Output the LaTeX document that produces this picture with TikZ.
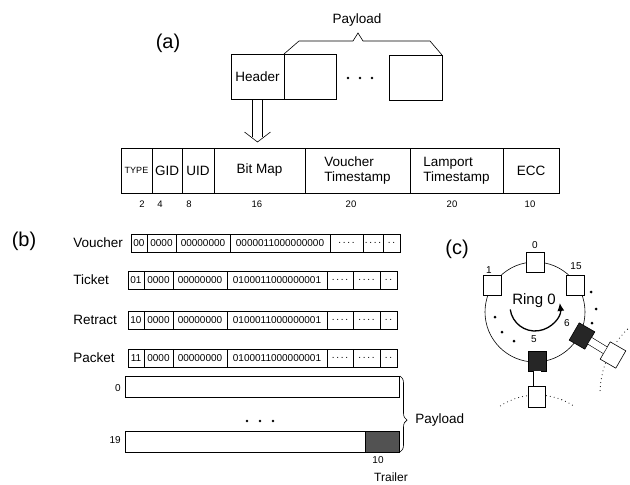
\documentclass[tikz,border=0pt]{standalone}
\usepackage{fontspec}
\setmainfont{Liberation Sans}
\usetikzlibrary{positioning,arrows.meta,decorations.pathreplacing}

\tikzset{
  lbl/.style={font=\fontsize{13.5}{15}\selectfont, inner sep=1pt},
  part/.style={font=\fontsize{20}{22}\selectfont, inner sep=0pt},
  fld/.style={draw, minimum height=45, inner sep=0pt, outer sep=0pt, anchor=north west, font=\fontsize{13.5}{15}\selectfont, align=left},
  num/.style={font=\fontsize{9.5}{10}\selectfont, inner sep=0pt},
  cell/.style={draw, minimum height=18, inner sep=0pt, outer sep=0pt, font=\fontsize{10}{10}\selectfont},
  box/.style={draw, minimum height=45, inner sep=0pt, outer sep=0pt},
  stn/.style={draw, fill=white, minimum width=18, minimum height=20, inner sep=0pt},
  stnb/.style={stn, fill=black!85},
  dotline/.style={line width=1.1pt, line cap=round, dash pattern=on 0pt off 4pt}
}

\begin{document}
\begin{tikzpicture}[x=1pt, y=-1pt, line width=0.6pt]
        \useasboundingbox ( 0, 0 ) rectangle ( 630, 485 );

        % (a) пакет
        \node [part] (pa) at ( 168, 43 ) {(a)};
        \node [box, lbl, minimum width=53, anchor=north west] (hdr) at ( 231, 54 ) {Header};
        \node [box, minimum width=52, right=0pt of hdr] (pl1) {};
        \node [box, minimum width=53, anchor=north west] (pln) at ( 389, 55 ) {};
        \foreach \xx in {348, 360, 372}
            \fill ( \xx, 78 ) circle [ radius = 1.3 ];

        % скобка
        \draw (pl1.north west) -- ( 299, 41 ) -- ( 353, 41 ) -- ( 358, 33 ) -- ( 363, 41 ) -- ( 430, 41 ) -- (pln.north east);
        \node [lbl] (pay) at ( 357, 20 ) {Payload};

        % поля заголовка
        \node [fld, minimum width=31] (ftype) at ( 121, 148 ) {\fontsize{9}{9}\selectfont TYPE};
        \node [fld, minimum width=30, right=0pt of ftype] (fgid) {GID};
        \node [fld, minimum width=32, right=0pt of fgid] (fuid) {UID};
        \node [fld, minimum width=91, right=0pt of fuid] (fbm) {Bit Map};
        \node [fld, minimum width=105, right=0pt of fbm] (fvt) {Voucher\\Timestamp};
        \node [fld, minimum width=93, right=0pt of fvt] (flt) {Lamport\\Timestamp};
        \node [fld, minimum width=56, right=0pt of flt] (fecc) {ECC};
        \foreach \xx/\nn in {142/2, 160/4, 189/8, 257/16, 351/20, 452/20, 530/10}
            \node [num] (w\xx) at ( \xx, 204 ) {\nn};

        % двойная стрелка
        \coordinate (tip) at ([yshift=6pt]hdr.south |- ftype.north);
        \draw ([xshift=-5pt]hdr.south) -- ([xshift=-5pt, yshift=5pt]tip);
        \draw ([xshift=5pt]hdr.south) -- ([xshift=5pt, yshift=5pt]tip);
        \draw ([xshift=-13pt, yshift=10pt]tip) -- (tip) -- ([xshift=13pt, yshift=10pt]tip);

        % (b) форматы
        \node [part] (pb) at ( 24, 241 ) {(b)};
        \foreach \nm/\yy/\txt/\tp/\bm/\xo/\wa/\wb in {vch/243/Voucher/00/0000011000000000/131/33/20,
                tkt/280/Ticket/01/0100011000000001/128/26/27,
                rtr/320/Retract/10/0100011000000001/128/26/27,
                pkt/358/Packet/11/0100011000000001/128/26/27} {
            \node [lbl, anchor=west] (\nm) at ( 72, \yy ) {\txt};
            \node [cell, minimum width=16, anchor=west] (\nm-1) at ( \xo, \yy ) {\tp};
            \node [cell, minimum width=29, right=0pt of \nm-1] (\nm-2) {0000};
            \node [cell, minimum width=54, right=0pt of \nm-2] (\nm-3) {00000000};
            \node [cell, minimum width=100, right=0pt of \nm-3] (\nm-4) {\bm};
            \node [cell, minimum width=\wa, right=0pt of \nm-4] (\nm-5) {.\,.\,.\,.};
            \node [cell, minimum width=\wb, right=0pt of \nm-5] (\nm-6) {.\,.\,.\,.};
            \node [cell, minimum width=17, right=0pt of \nm-6] (\nm-7) {.\,.};
        }

        % полезная нагрузка
        \node [box, minimum width=274, minimum height=21, anchor=north west] (r0) at ( 125, 376 ) {};
        \node [box, minimum width=274, minimum height=21, anchor=north west] (r19) at ( 125, 431 ) {};
        \node [box, fill=black!68, minimum width=34, minimum height=21, anchor=east] (trl) at (r19.east) {};
        \node [num, font=\fontsize{10}{10}\selectfont, anchor=east] (i0) at ( 121, 388 ) {0};
        \node [num, font=\fontsize{10}{10}\selectfont, anchor=east] (i19) at ( 121, 440 ) {19};
        \foreach \xx in {247, 260, 273}
            \fill ( \xx, 421 ) circle [ radius = 1.3 ];
        \draw [decorate, decoration={brace, amplitude=7pt, aspect=0.58}] ([xshift=1pt]r0.north east) -- ([xshift=1pt]r19.south east);
        \node [lbl, anchor=west] (pay2) at ( 414, 420 ) {Payload};
        \node [num, font=\fontsize{10}{10}\selectfont] (t10) at ( 378, 460 ) {10};
        \node [lbl, font=\fontsize{12}{12}\selectfont] (trlr) at ( 391, 477 ) {Trailer};

        % (c) кольцо
        \node [part] (pc) at ( 457, 249 ) {(c)};
        \draw ( 535, 312 ) circle [ radius = 50 ];
        \node [stn] (s0) at ( 535, 262 ) {};
        \node [stn] (s1) at ( 492, 285 ) {};
        \node [stn] (s15) at ( 575, 285 ) {};
        \node [stnb] (s5) at ( 537, 361 ) {};
        \node [stnb, rotate=-30] (s6) at ( 582, 336 ) {};
        \node [stn, minimum width=17, minimum height=21] (o5) at ( 537, 397 ) {};
        \node [stn, rotate=-30] (o6) at ( 613, 355 ) {};
        \draw [double, double distance=7pt] (s5) -- (o5);
        \draw [double, double distance=7pt] (s6) -- (o6);
        \node [num, font=\fontsize{10}{10}\selectfont] (l0) at ( 535, 245 ) {0};
        \node [num, font=\fontsize{10}{10}\selectfont] (l1) at ( 489, 270 ) {1};
        \node [num, font=\fontsize{10}{10}\selectfont] (l15) at ( 576, 266 ) {15};
        \node [num, font=\fontsize{10}{10}\selectfont] (l6) at ( 567, 323 ) {6};
        \node [num, font=\fontsize{10}{10}\selectfont] (l5) at ( 534, 339 ) {5};
        \foreach \xx/\yy in {495/317, 502/332, 514/341, 591/292, 596/309, 592/323}
            \fill ( \xx, \yy ) circle [ radius = 1.5 ];

        % направление
        \node [font=\fontsize{15}{15}\selectfont, inner sep=0pt] (rng) at ( 534, 301 ) {Ring 0};
        \draw [line width=1.3pt, -{Latex[length=8pt, width=7pt]}] ([shift={(172:25)}]535,306) arc [ start angle = 172, end angle = -7, radius = 25 ];

        % соседние кольца
        \draw [dotline] ([shift={(237:67)}]537,462) arc [ start angle = 237, end angle = 262, radius = 67 ];
        \draw [dotline] ([shift={(278:67)}]537,462) arc [ start angle = 278, end angle = 303, radius = 67 ];
        \draw [dotline] ([shift={(226:90)}]690,394) arc [ start angle = 226, end angle = 214, radius = 90 ];
        \draw [dotline] ([shift={(200:90)}]690,394) arc [ start angle = 200, end angle = 181, radius = 90 ];
\end{tikzpicture}
\end{document}
